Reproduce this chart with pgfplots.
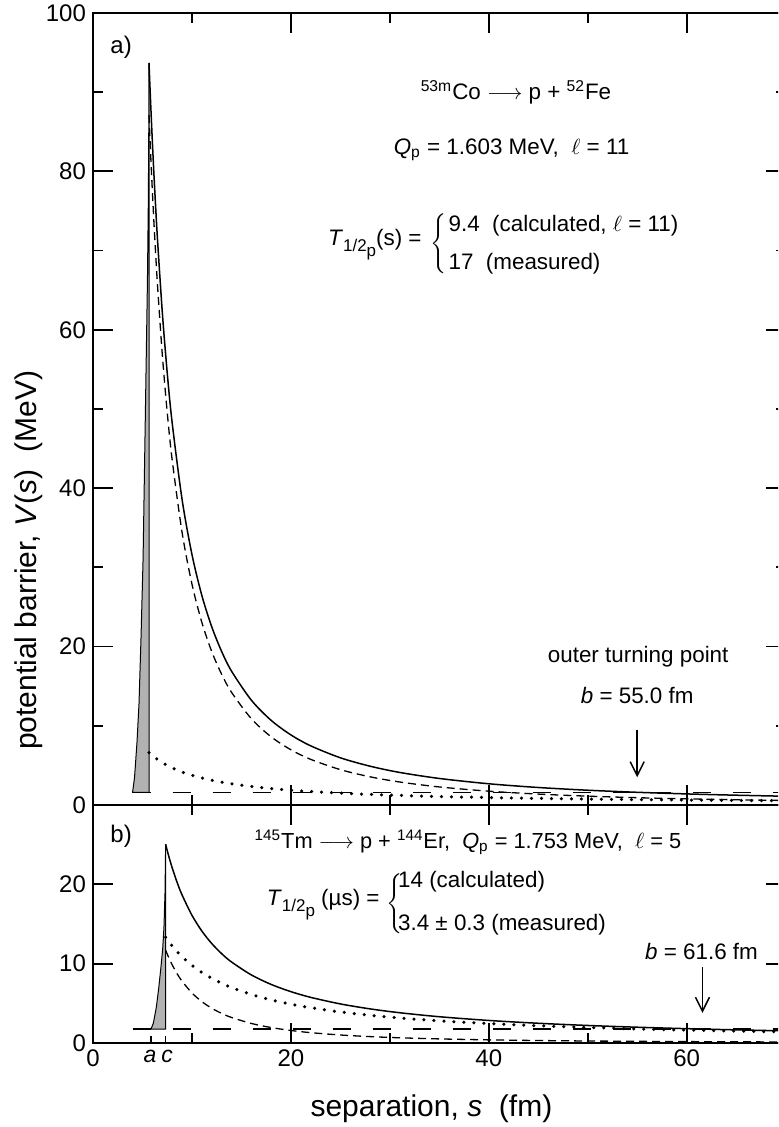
\documentclass[border=0pt]{standalone}
\usepackage{fontspec}
\setmainfont{Liberation Sans}
\usepackage{pgfplots}
\pgfplotsset{compat=1.18}
\usetikzlibrary{arrows.meta}
\tikzset{ann/.style={font=\fontsize{11.2}{13.4}\selectfont, inner sep=0pt}}
\newcommand{\Thalf}{\textit{T}\raisebox{-0.5ex}{\fontsize{8.5}{9}\selectfont 1/2\raisebox{-0.55ex}{p}}}
\begin{document}
\begin{tikzpicture}
\useasboundingbox (-46.5pt,-42pt) rectangle (342.5pt,521.5pt);
\clip (-46.5pt,-42pt) rectangle (342.5pt,521.5pt);
\pgfplotsset{
 common/.style={
  width=346.3pt, scale only axis, xmin=0, xmax=70,
  xtick={0,20,40,60}, minor xtick={10,30,50,70},
  tick align=inside, major tick length=10pt, minor tick length=5pt,
  tick style={black, line width=0.9pt},
  axis line style={line width=1pt},
  /pgf/number format/assume math mode=true,
  tick label style={font=\fontsize{12}{14}\selectfont},
  clip=false,
 },
 solidc/.style={black, line width=0.75pt, smooth},
 dashc/.style={black, line width=0.65pt, dash pattern=on 4pt off 2.5pt, smooth},
 dotc/.style={black, line width=1.75pt, line cap=round, dash pattern=on 0pt off 5pt, smooth},
 qline/.style={black, line width=0.65pt, dash pattern=on 9pt off 11pt},
}
% ---------------- bottom panel ----------------
\begin{axis}[common, at={(0,0)}, anchor=south west, height=119pt,
  ymin=0, ymax=30, ytick={0,10,20}]
\addplot[fill=black!30, draw=black, line width=0.5pt] coordinates {
 (5.86,1.753) (6.1,2.5) (6.4,4.5) (6.65,7) (6.87,9.6) (7.05,12) (7.17,14.5)
 (7.28,19) (7.34,25.05) (7.34,1.753)} -- cycle;
\addplot[qline] coordinates {(4.0,1.753) (70,1.753)};
\addplot[dashc] coordinates {
 (7.34,11.712) (7.5,11.218) (7.7,10.643) (8,9.859) (8.5,8.734) (9,7.790) (10,6.31)
 (11,5.215) (12,4.382) (13,3.734) (14,3.219) (16,2.465) (18,1.948) (20,1.578)
 (22,1.304) (25,1.010) (28,0.805) (31,0.657) (35,0.515) (40,0.394) (45,0.312)
 (50,0.252) (55,0.209) (60,0.175) (65,0.149) (70,0.129)};
\addplot[dotc] coordinates {
 (7.34,13.338) (7.5,13.053) (7.7,12.714) (8,12.2375) (8.5,11.518) (9,10.878)
 (10,9.79) (11,8.9) (12,8.158) (13,7.531) (14,6.993) (16,6.119) (18,5.439)
 (20,4.895) (22,4.45) (25,3.916) (28,3.496) (31,3.158) (35,2.797) (40,2.448)
 (45,2.176) (50,1.958) (55,1.78) (60,1.632) (65,1.506) (70,1.399)};
\addplot[solidc] coordinates {
 (7.34,25.05) (7.5,24.27) (7.7,23.357) (8,22.10) (8.5,20.25) (9,18.668) (10,16.10)
 (11,14.115) (12,12.54) (13,11.265) (14,10.212) (16,8.584) (18,7.387) (20,6.473)
 (22,5.754) (25,4.926) (28,4.301) (31,3.815) (35,3.312) (40,2.842) (45,2.488)
 (50,2.21) (55,1.989) (60,1.807) (65,1.655) (70,1.528)};
\draw[black, line width=0.8pt] (axis cs:5.86,0) -- (axis cs:5.86,0.9);
\draw[black, line width=0.8pt] (axis cs:7.34,0) -- (axis cs:7.34,0.9);
\node[ann, font=\fontsize{11.5}{13.8}\selectfont\itshape] at (axis cs:5.76,-1.75) {a};
\node[ann, font=\fontsize{11.5}{13.8}\selectfont\itshape] at (axis cs:7.5,-1.75) {c};
\node[ann, anchor=west, font=\fontsize{12}{14}\selectfont] at (axis cs:1.72,26.0) {b)};
\node[ann, font=\fontsize{10.9}{13}\selectfont] at (axis cs:37.9,25.3) {\textsuperscript{145}Tm $\longrightarrow$ p + \textsuperscript{144}Er,\ \ \textit{Q}\textsubscript{p} = 1.753 MeV,\ \ $\ell$ = 5};
\node[ann, anchor=east] at (axis cs:29.0,17.4) {\Thalf\ (µs) =};
\node[ann, anchor=west] at (axis cs:29.6,17.6) {$\left\{\rule[-12pt]{0pt}{26pt}\right.$};
\node[ann, anchor=west] at (axis cs:30.8,20.3) {14 (calculated)};
\node[ann, anchor=west] at (axis cs:30.8,14.9) {3.4 ± 0.3 (measured)};
\node[ann] at (axis cs:61.5,11.5) {\textit{b} = 61.6 fm};
\draw[-{Straight Barb[length=7pt,width=7pt]}, line width=0.75pt] (axis cs:61.6,9.6) -- (axis cs:61.6,3.8);
\node[font=\fontsize{15}{18}\selectfont] at ([yshift=-33pt]axis cs:34.2,0) {separation, \textit{s}\ \ (fm)};
\end{axis}
% ---------------- top panel ----------------
\begin{axis}[common, at={(0,119pt)}, anchor=south west, height=396pt,
  ymin=0, ymax=100, ytick={0,20,40,60,80,100}, minor ytick={10,30,50,70,90},
  xticklabels={}]
\addplot[fill=black!30, draw=black, line width=0.5pt] coordinates {
 (4.0,1.603) (4.2,3.5) (4.45,8) (4.65,12.8) (4.85,21) (5.06,31) (5.3,50)
 (5.5,66) (5.59,76) (5.64,86) (5.66,93.7) (5.66,1.603)} -- cycle;
\addplot[qline] coordinates {(4.0,1.603) (70,1.603)};
\addplot[dashc] coordinates {
 (5.66,87.09) (5.8,82.94) (6,77.50) (6.2,72.58) (6.5,66.04) (7,56.94) (7.5,49.60)
 (8,43.59) (9,34.44) (10,27.90) (11,23.06) (12,19.375) (13,16.51) (14,14.23)
 (16,10.90) (18,8.611) (20,6.975) (22,5.764) (25,4.464) (28,3.559) (31,2.903)
 (35,2.278) (40,1.744) (45,1.378) (50,1.116) (55,0.922) (60,0.775) (65,0.660) (70,0.569)};
\addplot[dotc] coordinates {
 (5.66,6.615) (6,6.24) (6.5,5.76) (7,5.349) (7.5,4.992) (8,4.68) (9,4.16) (10,3.744)
 (11,3.404) (12,3.12) (13,2.88) (14,2.674) (16,2.34) (18,2.08) (20,1.872) (22,1.702)
 (25,1.498) (28,1.337) (31,1.208) (35,1.070) (40,0.936) (45,0.832) (50,0.749)
 (55,0.681) (60,0.624) (65,0.576) (70,0.535)};
\addplot[solidc] coordinates {
 (5.66,93.70) (5.8,89.39) (6,83.74) (6.2,78.62) (6.5,71.80) (7,62.29) (7.5,54.59)
 (8,48.27) (9,38.60) (10,31.64) (11,26.46) (12,22.50) (13,19.39) (14,16.90)
 (16,13.24) (18,10.69) (20,8.85) (22,7.47) (25,5.96) (28,4.90) (31,4.11) (35,3.35)
 (40,2.68) (45,2.21) (50,1.865) (55,1.603) (60,1.399) (65,1.236) (70,1.104)};
\node[ann, anchor=west, font=\fontsize{12}{14}\selectfont] at (axis cs:1.72,95.7) {a)};
\node[ann] at (axis cs:42.75,90.0) {\textsuperscript{53m}Co $\longrightarrow$ p + \textsuperscript{52}Fe};
\node[ann] at (axis cs:42.3,82.7) {\textit{Q}\textsubscript{p} = 1.603 MeV,\ \ $\ell$ = 11};
\node[ann, anchor=east] at (axis cs:33.25,70.8) {\Thalf(s) =};
\node[ann, anchor=west] at (axis cs:34.1,70.9) {$\left\{\rule[-11pt]{0pt}{24pt}\right.$};
\node[ann, anchor=west] at (axis cs:35.9,73.2) {9.4\ \ (calculated, $\ell$ = 11)};
\node[ann, anchor=west] at (axis cs:35.9,68.4) {17\ \ (measured)};
\node[ann] at (axis cs:55.1,18.7) {outer turning point};
\node[ann] at (axis cs:55.0,13.8) {\textit{b} = 55.0 fm};
\draw[-{Straight Barb[length=7pt,width=7pt]}, line width=0.75pt] (axis cs:55,9.5) -- (axis cs:55,3.5);
\node[font=\fontsize{15}{18}\selectfont, rotate=90, anchor=west] at ([xshift=-32pt]axis cs:0,6.06) {potential barrier, \textit{V}(\textit{s})\ \ (MeV)};
\end{axis}
\end{tikzpicture}
\end{document}
